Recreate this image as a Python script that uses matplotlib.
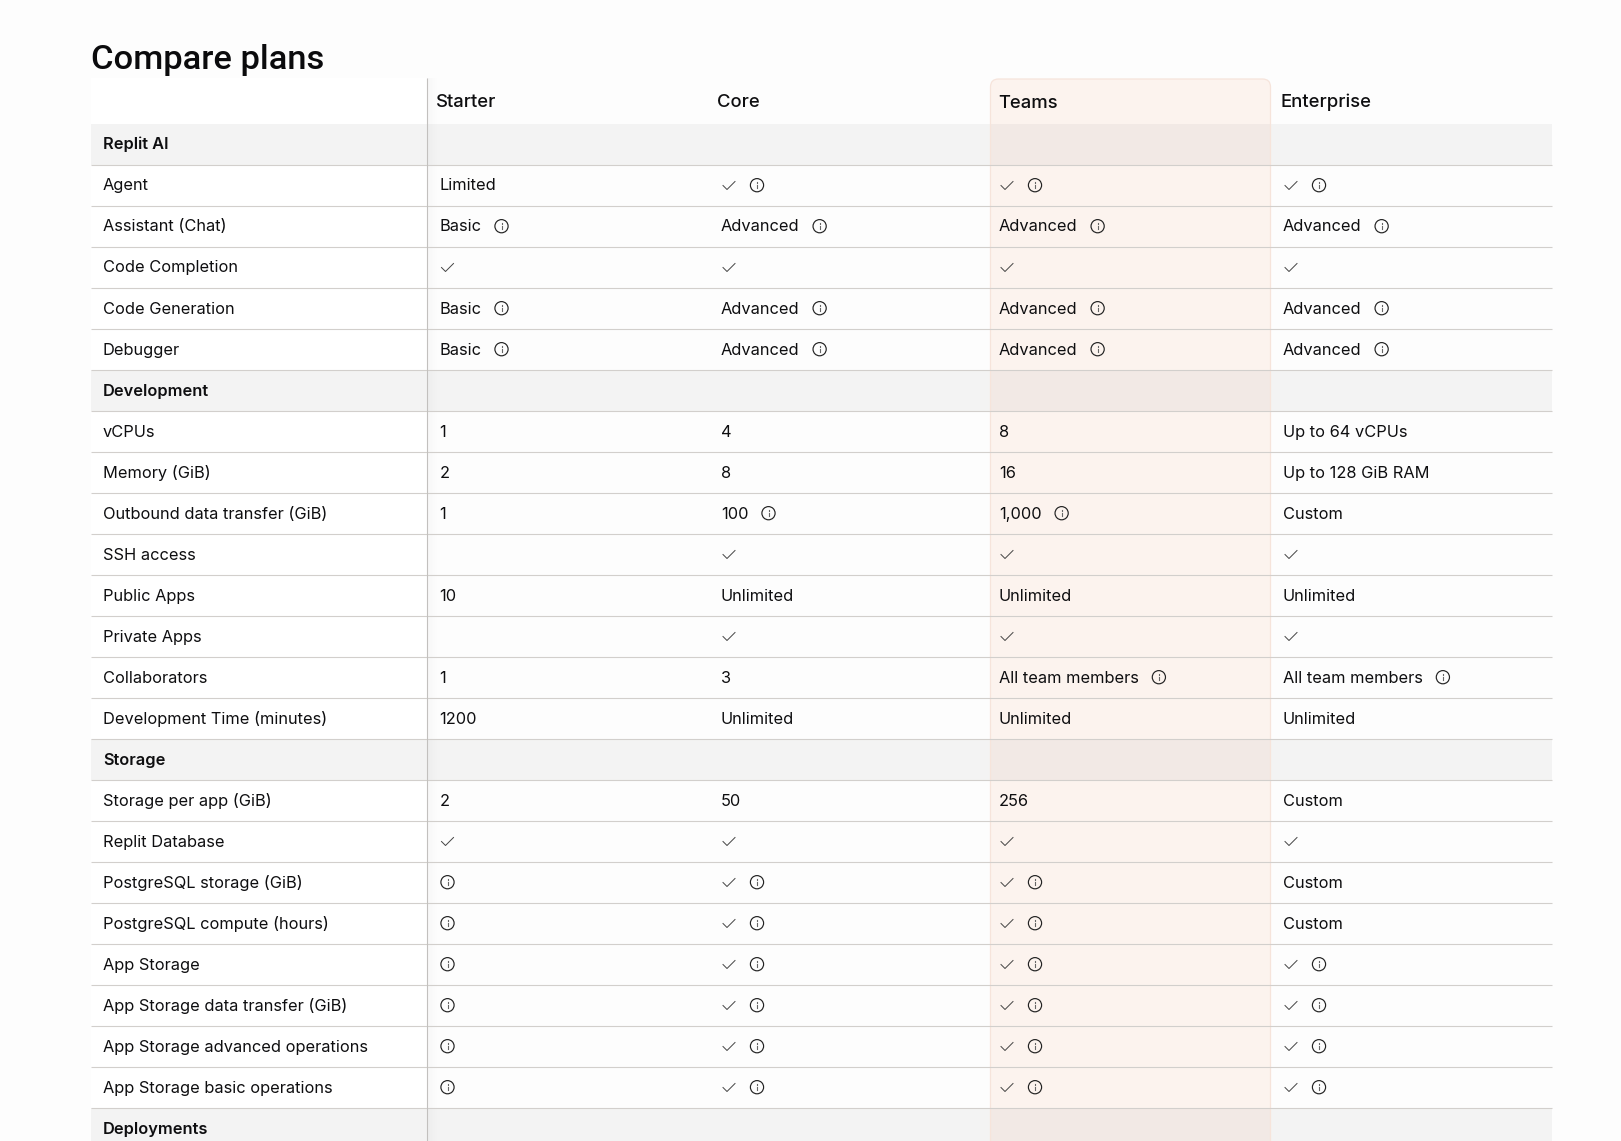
import numpy as np
import matplotlib
matplotlib.use('Agg')
import matplotlib.pyplot as plt
from matplotlib.patches import Circle, FancyBboxPatch, Rectangle

plt.rcParams['font.family'] = ['Inter', 'DejaVu Sans']

# Table content. None marks a section row, "check" and "info" are icons
title = 'Compare plans'
plans = ['Starter', 'Core', 'Teams', 'Enterprise']
features = ['Replit AI', 'Agent', 'Assistant (Chat)', 'Code Completion', 'Code Generation', 'Debugger',
            'Development', 'vCPUs', 'Memory (GiB)', 'Outbound data transfer (GiB)', 'SSH access',
            'Public Apps', 'Private Apps', 'Collaborators', 'Development Time (minutes)',
            'Storage', 'Storage per app (GiB)', 'Replit Database', 'PostgreSQL storage (GiB)',
            'PostgreSQL compute (hours)', 'App Storage', 'App Storage data transfer (GiB)',
            'App Storage advanced operations', 'App Storage basic operations', 'Deployments']
starter = [None, 'Limited', 'Basic|info', 'check', 'Basic|info', 'Basic|info',
           None, '1', '2', '1', '', '10', '', '1', '1200',
           None, '2', 'check', 'info', 'info', 'info', 'info', 'info', 'info', None]
core = [None, 'check|info', 'Advanced|info', 'check', 'Advanced|info', 'Advanced|info',
        None, '4', '8', '100|info', 'check', 'Unlimited', 'check', '3', 'Unlimited',
        None, '50', 'check', 'check|info', 'check|info', 'check|info', 'check|info', 'check|info', 'check|info', None]
teams = [None, 'check|info', 'Advanced|info', 'check', 'Advanced|info', 'Advanced|info',
         None, '8', '16', '1,000|info', 'check', 'Unlimited', 'check', 'All team members|info', 'Unlimited',
         None, '256', 'check', 'check|info', 'check|info', 'check|info', 'check|info', 'check|info', 'check|info', None]
enterprise = [None, 'check|info', 'Advanced|info', 'check', 'Advanced|info', 'Advanced|info',
              None, 'Up to 64 vCPUs', 'Up to 128 GiB RAM', 'Custom', 'check', 'Unlimited', 'check',
              'All team members|info', 'Unlimited',
              None, 'Custom', 'check', 'Custom', 'Custom', 'check|info', 'check|info', 'check|info', 'check|info', None]
columns = [starter, core, teams, enterprise]

# Layout in pixels
W, H = 1621, 1141
left, right, divider = 91, 1552, 427
top = 78
first_row = 123.5
row_h = 41.0
header_x = [436, 716.5, 998, 1280]
cell_x = [439.5, 721, 999, 1283]
body_size = 11.8
ink = '#0e0e10'
line_col = '#d2cfcc'

fig = plt.figure(figsize=(W / 100, H / 100), dpi=100, facecolor='#fdfdfd')
ax = fig.add_axes([0, 0, 1, 1])
ax.axis('off')


def draw_check(x, y):
    ax.plot([x + 2, x + 6, x + 14], [y + 0.3, y + 4.3, y - 3.7], color='#444444', lw=0.7, zorder=5)


def draw_info(x, y):
    ax.add_patch(Circle((x, y), 6.6, fc='none', ec='#222222', lw=0.85, zorder=5))
    ax.plot([x, x], [y - 0.5, y + 3], color='#666666', lw=0.8, zorder=5)
    ax.plot([x, x], [y - 3.2, y - 2.4], color='#666666', lw=0.8, zorder=5)


ax.text(left, 68.5, title, family=['Roboto', 'DejaVu Sans'], fontsize=24.8, fontweight='medium',
        color='#0b0b0d', va='baseline', ha='left')
ax.add_patch(Rectangle((left, top), divider - left, H - top, fc='white', ec='none', zorder=0))

# faint shadow the frozen first column casts to its right
shade = np.linspace(0.025, 0, 12).reshape(1, -1)
ax.imshow(np.dstack([np.zeros_like(shade)] * 3 + [shade]), extent=(divider, divider + 12, H, top),
          aspect='auto', zorder=2.5, interpolation='bilinear')
ax.set_xlim(0, W)
ax.set_ylim(H, 0)

for plan, x in zip(plans, header_x):
    y = 108 if plan == 'Teams' else 107
    ax.text(x, y, plan, fontsize=13.3, fontweight='medium', color=ink, va='baseline', zorder=6)

renderer = fig.canvas.get_renderer()
for i, name in enumerate(features):
    y0 = first_row + i * row_h
    yc = y0 + row_h / 2 + 0.2
    base = yc + 5.2 + i * 0.025
    section = columns[0][i] is None
    if section:
        ax.add_patch(Rectangle((left, y0), right - left, row_h, fc='#f3f3f3', ec='none', zorder=1))
    ax.text(103, base, name, fontsize=body_size, color=ink, va='baseline',
            fontweight='semibold' if section else 'normal', zorder=6)
    ax.plot([left, right], [y0 + row_h, y0 + row_h], color=line_col, lw=0.8, zorder=3,
            solid_capstyle='butt')
    if section:
        continue
    for col, x in zip(columns, cell_x):
        parts = col[i].split('|') if col[i] else []
        if parts == ['info']:
            draw_info(x + 8, yc)
        elif parts and parts[0] == 'check':
            draw_check(x, yc)
            if 'info' in parts:
                draw_info(x + 36, yc)
        elif parts:
            t = ax.text(x, base, parts[0], fontsize=body_size, color=ink, va='baseline', zorder=6)
            if 'info' in parts:
                end = t.get_window_extent(renderer).x1
                draw_info(end + 20, yc)

# highlighted Teams column, tinted over the section rows
ax.add_patch(FancyBboxPatch((990.5, 79), 280, H + 60, boxstyle='round,pad=0,rounding_size=8',
                            fc=(0.94, 0.42, 0.16, 0.065), ec='#f6e4db', lw=0.9, zorder=2))
ax.plot([divider, divider], [top, H], color='#c2c0be', lw=0.8, zorder=4, solid_capstyle='butt')

fig.savefig('out.png', dpi=100, facecolor=fig.get_facecolor())
